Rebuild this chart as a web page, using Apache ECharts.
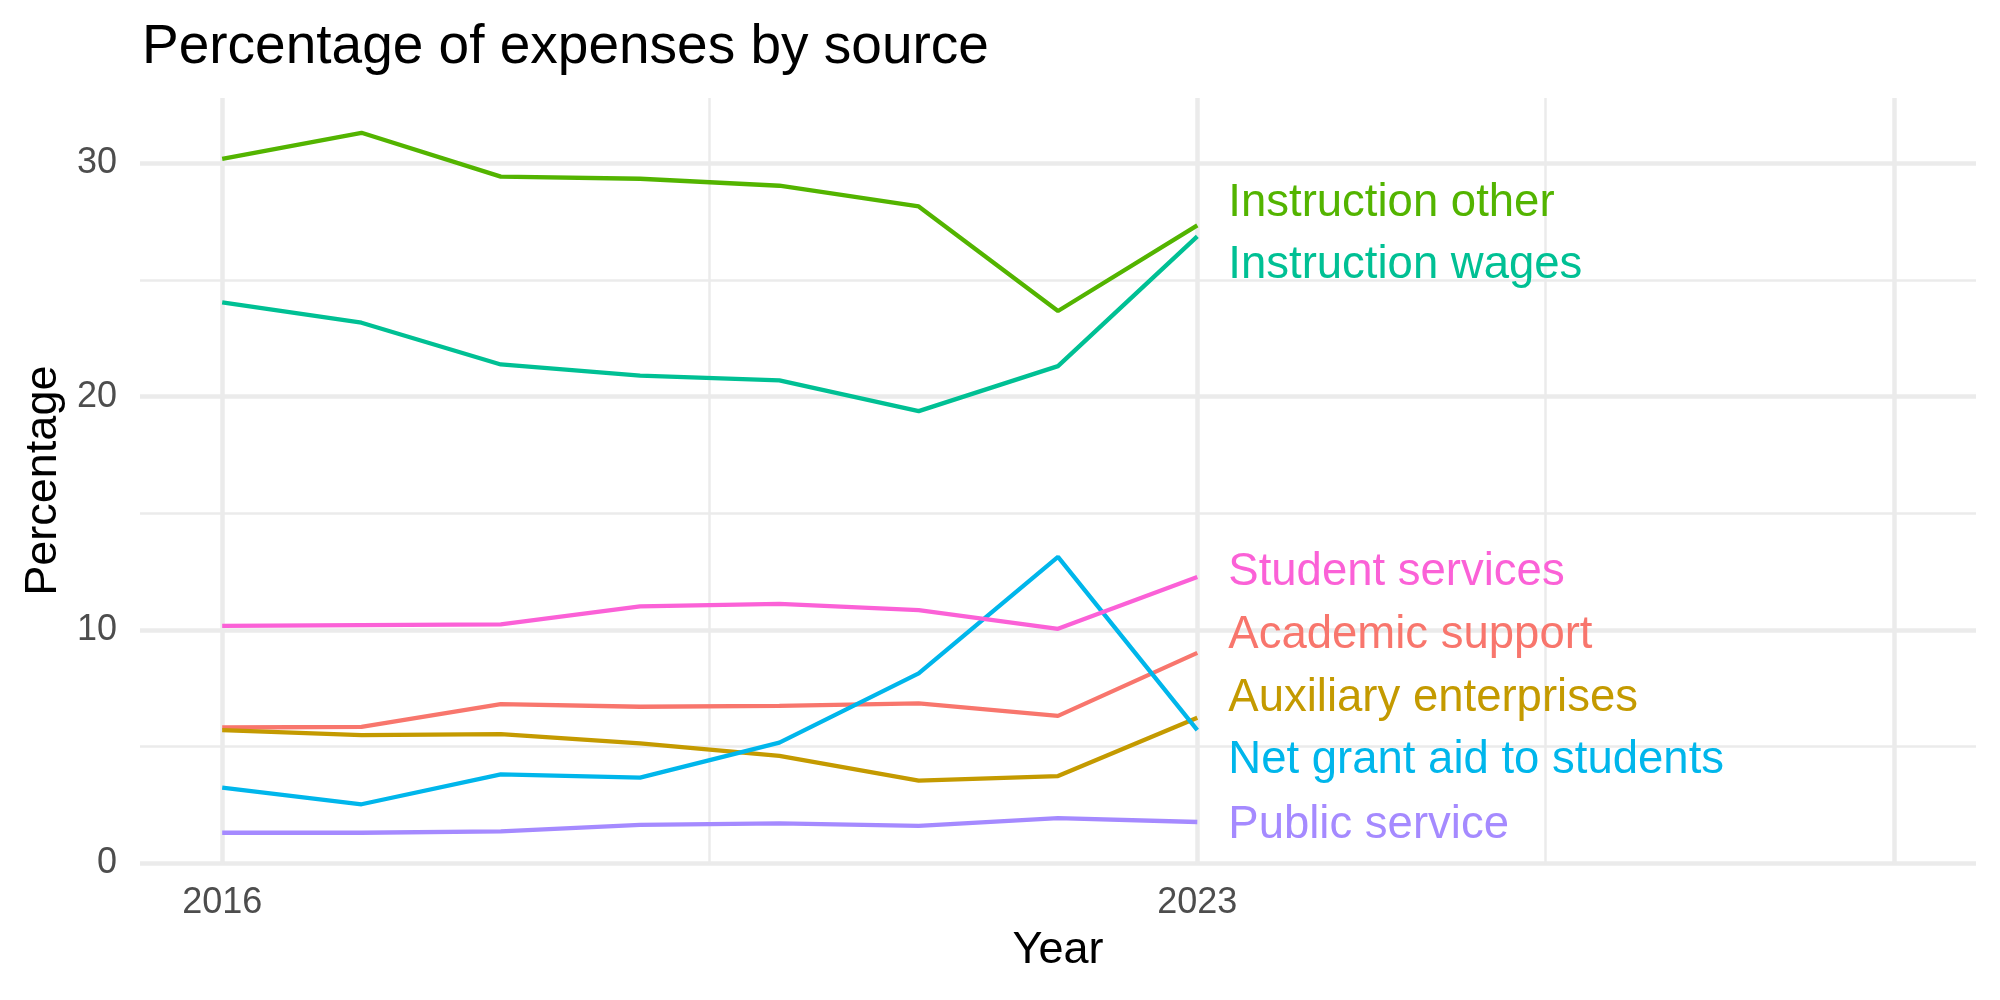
<!DOCTYPE html>
<html>
<head>
<meta charset="utf-8">
<script src="https://cdn.jsdelivr.net/npm/echarts@6/dist/echarts.min.js"></script>
<style>
html,body{margin:0;padding:0;background:#fff;}
#chart{width:2000px;height:1000px;}
</style>
</head>
<body>
<div id="chart"></div>
<script>
// ---- data ----
const years = [2016, 2017, 2018, 2019, 2020, 2021, 2022, 2023];
const seriesNames = ["Academic support", "Auxiliary enterprises", "Instruction other", "Instruction wages", "Net grant aid to students", "Public service", "Student services"];
const academicSupport      = [5.82, 5.85, 6.82, 6.71, 6.75, 6.85, 6.32, 9.02];
const auxiliaryEnterprises = [5.71, 5.49, 5.54, 5.14, 4.60, 3.54, 3.74, 6.24];
const instructionOther     = [30.19, 31.31, 29.43, 29.34, 29.04, 28.15, 23.67, 27.34];
const instructionWages     = [24.04, 23.17, 21.38, 20.90, 20.70, 19.38, 21.31, 26.87];
const netGrantAid          = [3.24, 2.53, 3.81, 3.67, 5.17, 8.14, 13.13, 5.71];
const publicService        = [1.31, 1.31, 1.37, 1.65, 1.71, 1.60, 1.94, 1.77];
const studentServices      = [10.18, 10.21, 10.24, 11.01, 11.12, 10.85, 10.05, 12.27];
const xTickLabels = [2016, 2023];
const yTickLabels = [0, 10, 20, 30];
const xMajorGrid = [2016, 2023, 2028];
const xMinorGrid = [2019.5, 2025.5];
const yMajorGrid = [0, 10, 20, 30];
const yMinorGrid = [5, 15, 25];

// ---- style / layout ----
const colors = ["#F8766D", "#C49A00", "#53B400", "#00C094", "#00B6EB", "#A58AFF", "#FB61D7"];
const labelShift = [-17, -19, -22, 29, 30, 3, -5]; // px vertical nudges of end labels (repel)
const allValues = [academicSupport, auxiliaryEnterprises, instructionOther, instructionWages, netGrantAid, publicService, studentServices];
const FONT = "Liberation Sans, Arial, Helvetica, sans-serif";
const gridColor = "#EBEBEB";

const chart = echarts.init(document.getElementById('chart'), null, {renderer: 'canvas'});

const gridLines = [];
yMajorGrid.forEach(v => gridLines.push({yAxis: v, lineStyle: {width: 4.5}}));
yMinorGrid.forEach(v => gridLines.push({yAxis: v, lineStyle: {width: 2.5}}));
xMajorGrid.forEach(v => gridLines.push({xAxis: v, lineStyle: {width: 4.5}}));
xMinorGrid.forEach(v => gridLines.push({xAxis: v, lineStyle: {width: 2.5}}));

const series = [{
  type: 'line', name: '_grid', data: [], z: 0, silent: true,
  markLine: {
    silent: true, symbol: 'none', z: 0, animation: false,
    label: {show: false},
    lineStyle: {color: gridColor, type: 'solid'},
    emphasis: {disabled: true},
    data: gridLines
  }
}];

seriesNames.forEach((name, i) => {
  series.push({
    type: 'line', name: name, z: 3,
    data: years.map((y, j) => [y, allValues[i][j]]),
    showSymbol: false, symbol: 'none',
    lineStyle: {color: colors[i], width: 4.3},
    itemStyle: {color: colors[i]},
    emphasis: {disabled: true}
  });
});

const last = years.length - 1;
series.push({
  type: 'scatter', name: '_labels', z: 4, symbolSize: 0,
  itemStyle: {opacity: 1},
  data: seriesNames.map((name, i) => ({
    value: [years[last], allValues[i][last]],
    itemStyle: {opacity: 1, color: colors[i]},
    label: {
      show: true, position: 'right', distance: 31, offset: [0, labelShift[i]],
      formatter: name, color: colors[i], opacity: 1, fontSize: 45.5, fontFamily: FONT
    }
  })),
  emphasis: {disabled: true}
});

chart.setOption({
  animation: false,
  backgroundColor: '#fff',
  title: {
    text: 'Percentage of expenses by source',
    left: 137, top: 15,
    textStyle: {fontSize: 55, fontWeight: 'normal', color: '#000', fontFamily: FONT}
  },
  grid: {left: 140, right: 24, top: 98, bottom: 136.7, containLabel: false},
  xAxis: {
    type: 'value', min: 2015.41, max: 2028.59,
    name: 'Year', nameLocation: 'middle', nameGap: 65,
    nameTextStyle: {fontSize: 45, color: '#000', fontFamily: FONT},
    axisLine: {show: false}, axisTick: {show: false}, splitLine: {show: false},
    axisLabel: {
      customValues: xTickLabels, margin: 22,
      fontSize: 36, color: '#4D4D4D', fontFamily: FONT,
      formatter: v => String(v)
    }
  },
  yAxis: {
    type: 'value', min: 0, max: 32.8, interval: 10,
    name: 'Percentage', nameLocation: 'middle', nameGap: 73, nameRotate: 90,
    nameTextStyle: {fontSize: 45, color: '#000', fontFamily: FONT},
    axisLine: {show: false}, axisTick: {show: false}, splitLine: {show: false},
    axisLabel: {
      customValues: yTickLabels, margin: 23,
      fontSize: 36, color: '#4D4D4D', fontFamily: FONT
    }
  },
  series: series
});
</script>
</body>
</html>
